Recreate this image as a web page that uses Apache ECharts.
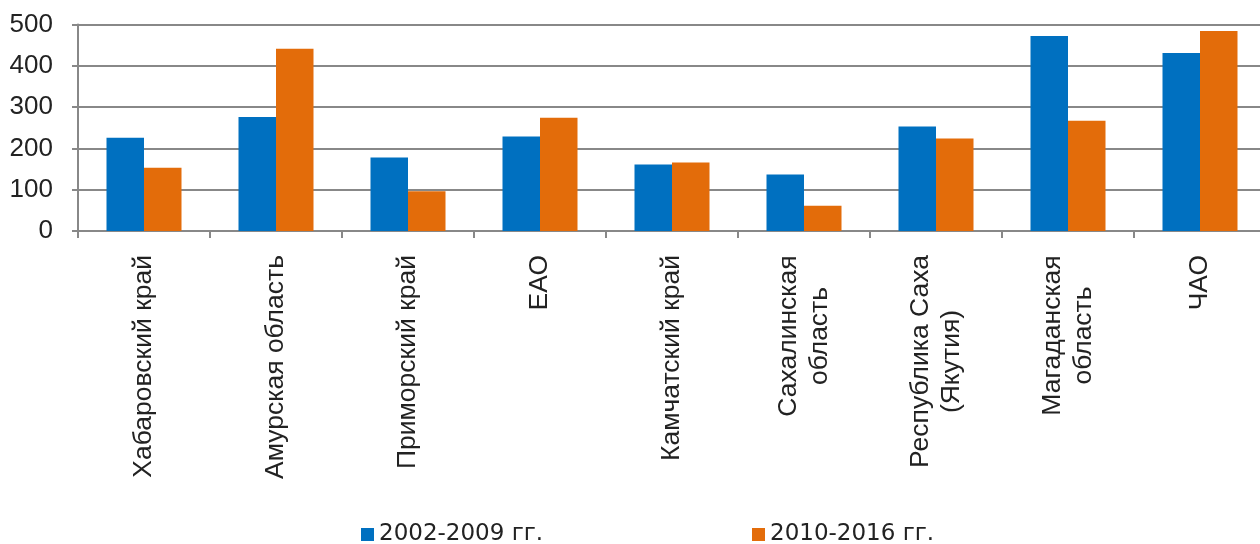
<!DOCTYPE html>
<html>
<head>
<meta charset="utf-8">
<script src="https://cdn.jsdelivr.net/npm/echarts@6/dist/echarts.min.js"></script>
<style>
  html, body { margin: 0; padding: 0; background: #fff; }
  #chart { width: 1260px; height: 544px; }
</style>
</head>
<body>
<div id="chart"></div>
<script>
// regions of the Far East
const categories = [
  "Хабаровский край",
  "Амурская область",
  "Приморский край",
  "ЕАО",
  "Камчатский край",
  "Сахалинская\nобласть",
  "Республика Саха\n(Якутия)",
  "Магаданская\nобласть",
  "ЧАО",
];
const seriesNames = ["2002-2009 гг.", "2010-2016 гг."];
const values2002 = [226, 276, 178, 229, 161, 137, 253, 472, 431];
const values2010 = [153, 441, 96, 274, 166, 61, 224, 267, 484];
const yTicks = [0, 100, 200, 300, 400, 500];

const FONT = '"Liberation Sans", Arial, sans-serif';
const LEGEND_FONT = '"DejaVu Sans", sans-serif';
const FS = 26.5;

// multi-line labels: centre the lines against each other
const ctx = document.createElement("canvas").getContext("2d");
ctx.font = FS + "px " + FONT;
const rich = {};
categories.forEach((c, i) => {
  if (c.indexOf("\n") >= 0) {
    const w = Math.max(...c.split("\n").map((s) => ctx.measureText(s).width));
    rich["l" + i] = { width: Math.ceil(w), align: "center", fontSize: FS, fontFamily: FONT, color: "#222", lineHeight: 31 };
  }
});

const legendBase = {
  top: 518,
  icon: "rect",
  itemWidth: 13,
  itemHeight: 13,
  textStyle: { fontSize: 23, color: "#222", fontFamily: LEGEND_FONT },
};

const chart = echarts.init(document.getElementById("chart"));
const option = {
  animation: false,
  textStyle: { fontFamily: FONT },
  grid: { left: 78, top: 24.5, width: 1188, bottom: 313, outerBoundsMode: "none" },
  legend: [
    Object.assign({ left: 356, data: [seriesNames[0]] }, legendBase),
    Object.assign({ left: 747, data: [seriesNames[1]] }, legendBase),
  ],
  xAxis: {
    type: "category",
    data: categories,
    axisLine: { lineStyle: { color: "#888", width: 2 } },
    axisTick: { show: true, length: 7, lineStyle: { color: "#888", width: 2 } },
    axisLabel: {
      interval: 0,
      rotate: 90,
      margin: 24,
      fontSize: FS,
      color: "#222",
      fontFamily: FONT,
      lineHeight: 31,
      rich: rich,
      formatter: (v, i) => {
        if (v.indexOf("\n") < 0) return v;
        return v.split("\n").map((s) => "{l" + i + "|" + s + "}").join("\n");
      },
    },
  },
  yAxis: {
    type: "value",
    min: yTicks[0],
    max: yTicks[yTicks.length - 1],
    interval: 100,
    axisLine: { show: true, lineStyle: { color: "#888", width: 2 } },
    axisTick: { show: true, length: 6, lineStyle: { color: "#888", width: 2 } },
    axisLabel: { margin: 25, fontSize: 26, color: "#222", fontFamily: FONT },
    splitLine: { lineStyle: { color: "#888", width: 2 } },
  },
  series: [
    {
      name: seriesNames[0],
      type: "bar",
      data: values2002,
      barWidth: 37.5,
      barGap: "0%",
      itemStyle: { color: "#0070C0" },
    },
    {
      name: seriesNames[1],
      type: "bar",
      data: values2010,
      barWidth: 37.5,
      barGap: "0%",
      itemStyle: { color: "#E36C0A" },
    },
  ],
};
chart.setOption(option);
</script>
</body>
</html>
